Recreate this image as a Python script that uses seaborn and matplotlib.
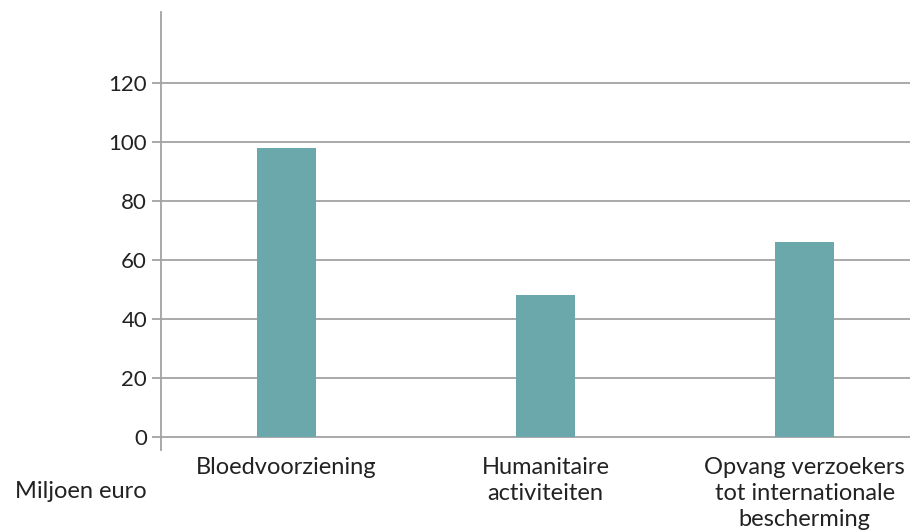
import matplotlib
matplotlib.use("Agg")
import matplotlib.pyplot as plt
import pandas as pd
import seaborn as sns

categories = [
    "Bloedvoorziening",
    "Humanitaire\nactiviteiten",
    "Opvang verzoekers\ntot internationale\nbescherming",
]
values = [98, 48, 66]
y_ticks = [0, 20, 40, 60, 80, 100, 120]
unit_label = "Miljoen euro"

BAR_COLOR = "#6ba8ab"
GRID_COLOR = "#a3a3a6"
TEXT_COLOR = "#222222"

sns.set_theme(style="white")
plt.rcParams["font.family"] = ["Lato", "DejaVu Sans"]

df = pd.DataFrame({"categorie": categories, "waarde": values})

fig = plt.figure(figsize=(9.17, 5.32), dpi=100, facecolor="white")
ax = fig.add_axes([161 / 917, 82 / 532, (910 - 161) / 917, (450 - 12) / 532])

sns.barplot(data=df, x="categorie", y="waarde", color=BAR_COLOR,
            width=0.23, saturation=1, linewidth=0, ax=ax, zorder=3)

ax.set_xlim(-0.4845, 2.407)
ax.set_ylim(-4.41, 144.07)
ax.set_yticks(y_ticks)
ax.yaxis.grid(True, color=GRID_COLOR, linewidth=1.3, zorder=0)
ax.xaxis.grid(False)

for side in ["top", "right", "bottom"]:
    ax.spines[side].set_visible(False)
ax.spines["left"].set_color(GRID_COLOR)
ax.spines["left"].set_linewidth(1.3)

ax.tick_params(axis="y", length=6.5, width=1.3, color=GRID_COLOR, pad=3.5,
               labelsize=16, labelcolor=TEXT_COLOR, left=True)
ax.tick_params(axis="x", length=0, pad=5, labelcolor=TEXT_COLOR)
ax.set_xticks(range(len(categories)))
ax.set_xticklabels(categories, fontsize=17, linespacing=1.3, va="top")
ax.set_xlabel("")
ax.set_ylabel("")

fig.text(15 / 917, 1 - 492 / 532, unit_label, ha="left", va="center",
         fontsize=17, color=TEXT_COLOR)

fig.savefig("out.png", dpi=100, facecolor="white")
